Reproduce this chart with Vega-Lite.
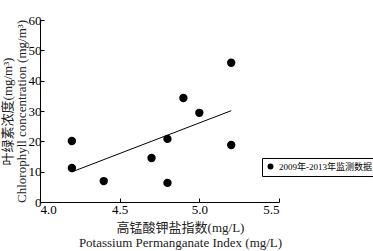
{
  "$schema": "https://vega.github.io/schema/vega-lite/v6.json",
  "width": 239,
  "height": 182,
  "autosize": {"type": "none"},
  "padding": {"left": 40, "top": 20, "right": 94, "bottom": 49},
  "background": "white",
  "config": {
    "view": {"stroke": null},
    "font": "Liberation Serif",
    "axis": {
      "grid": false,
      "domainColor": "#000",
      "tickColor": "#000",
      "tickSize": -4,
      "labelOverlap": false,
      "labelFont": "Liberation Serif",
      "labelFontSize": 13,
      "labelColor": "#000",
      "titleFont": "Liberation Serif, Noto Sans CJK SC",
      "titleFontSize": 13,
      "titleFontWeight": "normal",
      "titleColor": "#222"
    }
  },
  "data": {
    "values": [
      {"x": 4.2, "y": 20.1, "series": "2009年-2013年监测数据"},
      {"x": 4.2, "y": 11.2, "series": "2009年-2013年监测数据"},
      {"x": 4.4, "y": 6.9, "series": "2009年-2013年监测数据"},
      {"x": 4.7, "y": 14.5, "series": "2009年-2013年监测数据"},
      {"x": 4.8, "y": 20.8, "series": "2009年-2013年监测数据"},
      {"x": 4.8, "y": 6.3, "series": "2009年-2013年监测数据"},
      {"x": 4.9, "y": 34.3, "series": "2009年-2013年监测数据"},
      {"x": 5.0, "y": 29.4, "series": "2009年-2013年监测数据"},
      {"x": 5.2, "y": 45.9, "series": "2009年-2013年监测数据"},
      {"x": 5.2, "y": 18.8, "series": "2009年-2013年监测数据"}
    ]
  },
  "encoding": {
    "x": {
      "field": "x",
      "type": "quantitative",
      "scale": {"domain": [4.0, 5.5], "nice": false, "zero": false},
      "axis": {
        "values": [4.0, 4.5, 5.0, 5.5],
        "format": ".1f",
        "labelPadding": 5,
        "title": ["高锰酸钾盐指数(mg/L)", "Potassium Permanganate Index (mg/L)"],
        "titleX": 140,
        "titlePadding": 5,
        "titleLineHeight": 15
      }
    },
    "y": {
      "field": "y",
      "type": "quantitative",
      "scale": {"domain": [0, 60], "nice": false},
      "axis": {
        "values": [0, 10, 20, 30, 40, 50, 60],
        "labelPadding": 3,
        "title": ["叶绿素浓度(mg/m³)", "Chlorophyll concentration (mg/m³)"],
        "titlePadding": 0,
        "titleLineHeight": 14
      }
    }
  },
  "layer": [
    {
      "transform": [{"regression": "y", "on": "x"}],
      "mark": {"type": "line", "color": "#000", "strokeWidth": 1}
    },
    {
      "mark": {"type": "point", "filled": true, "opacity": 1, "size": 70},
      "encoding": {
        "color": {
          "field": "series",
          "type": "nominal",
          "scale": {"range": ["#000"]},
          "legend": {
            "title": null,
            "orient": "none",
            "legendX": 222,
            "legendY": 138,
            "strokeColor": "#000",
            "padding": 4,
            "symbolType": "circle",
            "symbolSize": 35,
            "labelFont": "Liberation Serif, Noto Sans CJK SC",
            "labelFontSize": 9,
            "labelColor": "#000"
          }
        }
      }
    }
  ]
}
